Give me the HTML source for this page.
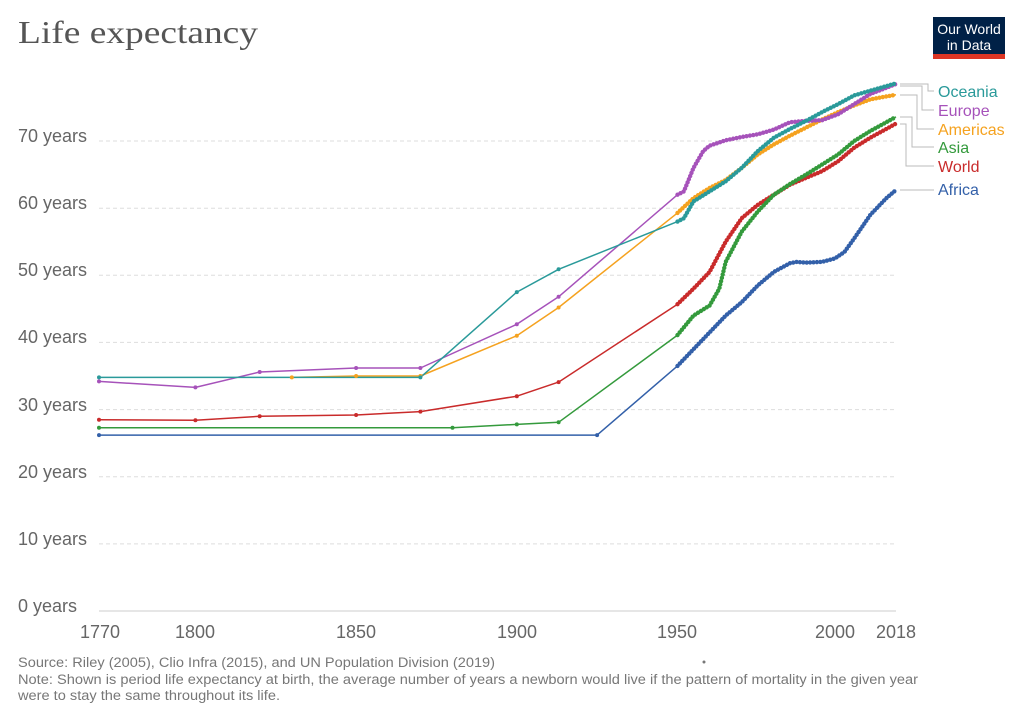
<!DOCTYPE html>
<html><head><meta charset="utf-8"><style>
body{margin:0;background:#fff;}
svg text{font-family:"Liberation Sans",sans-serif;}
</style></head><body>
<svg width="1024" height="723" xmlns="http://www.w3.org/2000/svg">
<rect width="1024" height="723" fill="#fff"/>
<text x="18" y="43" font-size="32" fill="#555" textLength="240" lengthAdjust="spacingAndGlyphs" style="font-family:'Liberation Serif',serif">Life expectancy</text>
<rect x="933" y="17" width="72" height="37" fill="#002147"/>
<rect x="933" y="54" width="72" height="5" fill="#dc3524"/>
<text x="969" y="34" text-anchor="middle" font-size="14" fill="#fff">Our World</text>
<text x="969" y="50" text-anchor="middle" font-size="14" fill="#fff">in Data</text>

<g stroke="#ddd" stroke-dasharray="4,3">
<line x1="99" x2="896" y1="543.9" y2="543.9"/>
<line x1="99" x2="896" y1="476.7" y2="476.7"/>
<line x1="99" x2="896" y1="409.6" y2="409.6"/>
<line x1="99" x2="896" y1="342.4" y2="342.4"/>
<line x1="99" x2="896" y1="275.3" y2="275.3"/>
<line x1="99" x2="896" y1="208.2" y2="208.2"/>
<line x1="99" x2="896" y1="141.0" y2="141.0"/>
</g>
<line x1="99" x2="896" y1="611" y2="611" stroke="#ccc"/>
<g font-size="18" fill="#666">
<text x="18" y="612">0 years</text>
<text x="18" y="545">10 years</text>
<text x="18" y="478">20 years</text>
<text x="18" y="411">30 years</text>
<text x="18" y="343">40 years</text>
<text x="18" y="276">50 years</text>
<text x="18" y="209">60 years</text>
<text x="18" y="142">70 years</text>
</g>
<g font-size="18" fill="#666" text-anchor="middle">
<text x="100" y="638">1770</text>
<text x="195" y="638">1800</text>
<text x="356" y="638">1850</text>
<text x="517" y="638">1900</text>
<text x="677" y="638">1950</text>
<text x="835" y="638">2000</text>
<text x="896" y="638">2018</text>
</g>

<g fill="none" stroke-width="1.5" stroke-linejoin="round">
<polyline stroke="#c92b2b" points="99,419.7 195.4,420.3 259.7,416.3 356.1,415 420.4,411.6 516.8,396.2 558.6,382.1 677.5,304.2 693.5,288.7 709.6,271.9 725.7,241.7 741.7,218.2 757.8,204.8 773.9,194.7 790,184.7 806,177.9 822.1,171.2 838.2,161.2 854.2,147.7 870.3,137.7 896,123.6"/>
<polyline stroke="#349a3c" points="99,427.7 452.5,427.7 516.8,424.4 558.6,422.3 677.5,335.1 693.5,315.6 709.6,305.5 719.3,288.7 725.7,261.9 741.7,231.7 757.8,211.5 773.9,194.7 790,184 806,174.6 822.1,164.5 838.2,154.4 854.2,141 870.3,131 896,116.9"/>
<polyline stroke="#3360a9" points="99,435.1 597.1,435.1 677.5,365.9 693.5,349.2 709.6,332.4 725.7,315.6 741.7,302.2 757.8,285.4 773.9,271.9 790,263.2 796.4,261.9 806,262.6 822.1,261.9 834.9,258.5 844.6,251.8 854.2,238.4 870.3,214.9 886.4,198.1 896,190"/>
<polyline stroke="#f5a21f" points="291.8,377.4 356.1,376 420.4,376 516.8,335.7 558.6,307.5 677.5,212.9 693.5,198.1 709.6,188 725.7,180 741.7,167.9 757.8,154.4 773.9,144.4 790,135.7 806,127.6 822.1,119.5 838.2,112.1 854.2,105.4 870.3,99.4 896,94.7"/>
<polyline stroke="#a652ba" points="99,381.4 195.4,387.4 259.7,372 356.1,368 420.4,368 516.8,324.3 558.6,296.8 677.5,194.7 683.9,191.4 693.5,167.9 703.2,151.1 709.6,145.7 725.7,140.3 741.7,137 757.8,134.3 773.9,129.6 790,122.2 806,120.9 822.1,120.2 838.2,114.2 854.2,104.1 870.3,94 896,84"/>
<polyline stroke="#2a9a9a" points="99,377.4 420.4,377.4 516.8,292.1 558.6,269.3 677.5,221.6 683.9,218.2 693.5,201.4 709.6,191.4 725.7,181.3 741.7,167.9 757.8,151.1 773.9,137.7 790,128.9 806,120.9 822.1,112.1 838.2,104.1 854.2,95.4 870.3,90.7 896,83.3"/>
</g>

<g fill="none" stroke-width="4.4" stroke-linecap="round" stroke-dasharray="0 3.4">
<polyline stroke="#c92b2b" points="677.5,304.2 693.5,288.7 709.6,271.9 725.7,241.7 741.7,218.2 757.8,204.8 773.9,194.7 790,184.7 806,177.9 822.1,171.2 838.2,161.2 854.2,147.7 870.3,137.7 896,123.6"/>
<polyline stroke="#349a3c" points="677.5,335.1 693.5,315.6 709.6,305.5 719.3,288.7 725.7,261.9 741.7,231.7 757.8,211.5 773.9,194.7 790,184 806,174.6 822.1,164.5 838.2,154.4 854.2,141 870.3,131 896,116.9"/>
<polyline stroke="#3360a9" points="677.5,365.9 693.5,349.2 709.6,332.4 725.7,315.6 741.7,302.2 757.8,285.4 773.9,271.9 790,263.2 796.4,261.9 806,262.6 822.1,261.9 834.9,258.5 844.6,251.8 854.2,238.4 870.3,214.9 886.4,198.1 896,190"/>
<polyline stroke="#f5a21f" points="677.5,212.9 693.5,198.1 709.6,188 725.7,180 741.7,167.9 757.8,154.4 773.9,144.4 790,135.7 806,127.6 822.1,119.5 838.2,112.1 854.2,105.4 870.3,99.4 896,94.7"/>
<polyline stroke="#a652ba" points="677.5,194.7 683.9,191.4 693.5,167.9 703.2,151.1 709.6,145.7 725.7,140.3 741.7,137 757.8,134.3 773.9,129.6 790,122.2 806,120.9 822.1,120.2 838.2,114.2 854.2,104.1 870.3,94 896,84"/>
<polyline stroke="#2a9a9a" points="677.5,221.6 683.9,218.2 693.5,201.4 709.6,191.4 725.7,181.3 741.7,167.9 757.8,151.1 773.9,137.7 790,128.9 806,120.9 822.1,112.1 838.2,104.1 854.2,95.4 870.3,90.7 896,83.3"/>
</g>

<g fill="#c92b2b"><circle cx="99" cy="419.7" r="2"/><circle cx="195.4" cy="420.3" r="2"/><circle cx="259.7" cy="416.3" r="2"/><circle cx="356.1" cy="415" r="2"/><circle cx="420.4" cy="411.6" r="2"/><circle cx="516.8" cy="396.2" r="2"/><circle cx="558.6" cy="382.1" r="2"/></g>
<g fill="#349a3c"><circle cx="99" cy="427.7" r="2"/><circle cx="452.5" cy="427.7" r="2"/><circle cx="516.8" cy="424.4" r="2"/><circle cx="558.6" cy="422.3" r="2"/></g>
<g fill="#3360a9"><circle cx="99" cy="435.1" r="2"/><circle cx="597.1" cy="435.1" r="2"/></g>
<g fill="#f5a21f"><circle cx="291.8" cy="377.4" r="2"/><circle cx="356.1" cy="376" r="2"/><circle cx="420.4" cy="376" r="2"/><circle cx="516.8" cy="335.7" r="2"/><circle cx="558.6" cy="307.5" r="2"/></g>
<g fill="#a652ba"><circle cx="99" cy="381.4" r="2"/><circle cx="195.4" cy="387.4" r="2"/><circle cx="259.7" cy="372" r="2"/><circle cx="356.1" cy="368" r="2"/><circle cx="420.4" cy="368" r="2"/><circle cx="516.8" cy="324.3" r="2"/><circle cx="558.6" cy="296.8" r="2"/></g>
<g fill="#2a9a9a"><circle cx="99" cy="377.4" r="2"/><circle cx="420.4" cy="377.4" r="2"/><circle cx="516.8" cy="292.1" r="2"/><circle cx="558.6" cy="269.3" r="2"/></g>

<g fill="none" stroke="#bbb">
<polyline points="900,84 928,84 928,91 934,91"/>
<polyline points="900,86 922,86 922,110 934,110"/>
<polyline points="900,95 917,95 917,129 934,129"/>
<polyline points="900,117 912,117 912,147 934,147"/>
<polyline points="900,124 906,124 906,166 934,166"/>
<line x1="900" x2="934" y1="190" y2="190"/>
</g>
<g font-size="16">
<text x="938" y="97" fill="#2a9a9a">Oceania</text>
<text x="938" y="116" fill="#a652ba">Europe</text>
<text x="938" y="135" fill="#f5a21f">Americas</text>
<text x="938" y="153" fill="#349a3c">Asia</text>
<text x="938" y="172" fill="#c92b2b">World</text>
<text x="938" y="195" fill="#3360a9">Africa</text>
</g>

<text x="18" y="667" font-size="13.5" fill="#777" textLength="477" lengthAdjust="spacingAndGlyphs">Source: Riley (2005), Clio Infra (2015), and UN Population Division (2019)</text>
<circle cx="704" cy="662" r="1.5" fill="#777"/>
<text x="18" y="684" font-size="13.5" fill="#777" textLength="900" lengthAdjust="spacingAndGlyphs">Note: Shown is period life expectancy at birth, the average number of years a newborn would live if the pattern of mortality in the given year</text>
<text x="18" y="700" font-size="13.5" fill="#777" textLength="262" lengthAdjust="spacingAndGlyphs">were to stay the same throughout its life.</text>
</svg>
</body></html>
